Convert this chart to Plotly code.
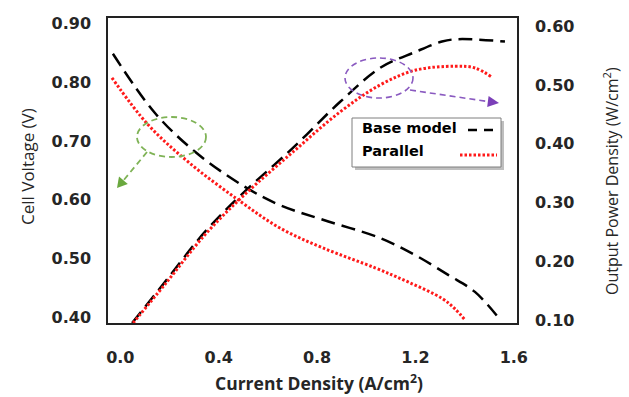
import plotly.graph_objects as go

# ---- data ----
base_v_i = [-0.030, 0.141, 0.304, 0.499, 0.649, 0.824, 1.056, 1.198, 1.333, 1.442, 1.536]
base_v = [0.849, 0.748, 0.682, 0.624, 0.591, 0.566, 0.535, 0.506, 0.472, 0.443, 0.400]

par_v_i = [-0.034, 0.113, 0.275, 0.479, 0.649, 0.824, 1.036, 1.170, 1.308, 1.361, 1.402]
par_v = [0.808, 0.728, 0.665, 0.600, 0.552, 0.518, 0.484, 0.460, 0.432, 0.414, 0.395]

base_p_i = [0.048, 0.182, 0.344, 0.499, 0.702, 0.893, 1.056, 1.198, 1.308, 1.373, 1.564]
base_p = [0.095, 0.165, 0.250, 0.316, 0.393, 0.471, 0.529, 0.556, 0.574, 0.578, 0.574]

par_p_i = [0.052, 0.182, 0.344, 0.499, 0.702, 0.893, 1.056, 1.198, 1.361, 1.442, 1.512]
par_p = [0.095, 0.161, 0.245, 0.311, 0.386, 0.454, 0.500, 0.525, 0.532, 0.529, 0.513]

x_ticks = [0.0, 0.4, 0.8, 1.2, 1.6]
y_ticks = [0.40, 0.50, 0.60, 0.70, 0.80, 0.90]
y2_ticks = [0.10, 0.20, 0.30, 0.40, 0.50, 0.60]

BLACK_DASH = "14px,7px"
RED_DOT = "2.5px,2px"

fig = go.Figure()
fig.add_trace(go.Scatter(x=base_v_i, y=base_v, mode="lines", name="Base model",
                         line=dict(color="black", width=2.5, dash=BLACK_DASH, shape="spline"),
                         showlegend=False))
fig.add_trace(go.Scatter(x=par_v_i, y=par_v, mode="lines", name="Parallel",
                         line=dict(color="#ff1a1a", width=3, dash=RED_DOT, shape="spline"),
                         showlegend=False))
fig.add_trace(go.Scatter(x=base_p_i, y=base_p, mode="lines", name="Base model",
                         line=dict(color="black", width=2.5, dash=BLACK_DASH, shape="spline"),
                         yaxis="y2", showlegend=False))
fig.add_trace(go.Scatter(x=par_p_i, y=par_p, mode="lines", name="Parallel",
                         line=dict(color="#ff1a1a", width=3, dash=RED_DOT, shape="spline"),
                         yaxis="y2", showlegend=False))

tickfont = dict(family="DejaVu Sans", size=16, color="#262626", weight="bold")
clear = "rgba(0,0,0,0)"

fig.update_layout(
    width=629, height=397,
    margin=dict(l=108, r=112, t=18, b=74),
    paper_bgcolor="white", plot_bgcolor="white",
    xaxis=dict(range=[-0.05, 1.613], tickvals=x_ticks, tickformat=".1f",
               showgrid=False, zeroline=False, showline=True, linecolor="#222",
               linewidth=1.5, mirror=True, ticks="outside", ticklen=19, tickcolor=clear,
               tickfont=tickfont),
    yaxis=dict(range=[0.39, 0.91], tickvals=y_ticks, tickformat=".2f",
               showgrid=False, zeroline=False, showline=True, linecolor="#222",
               linewidth=1.5, mirror=True, ticks="outside", ticklen=12, tickcolor=clear,
               tickfont=tickfont),
    yaxis2=dict(range=[0.095, 0.614], tickvals=y2_ticks, tickformat=".2f",
                overlaying="y", side="right", showgrid=False, zeroline=False,
                showline=True, linecolor="#222", linewidth=1.5,
                ticks="outside", ticklen=13, tickcolor=clear, tickfont=tickfont),
)

def px(x):
    return (x - 108) / 409.0

def py(y):
    return (323 - y) / 305.0

def tri(points):
    d = "M " + " L ".join(f"{px(a):.5f},{py(b):.5f}" for a, b in points) + " Z"
    return d

GREEN = "#7fb356"
PURPLE = "#8a5ac0"

shapes = []
# green ellipse
shapes.append(dict(type="circle", xref="paper", yref="paper",
                   x0=px(137), x1=px(206), y0=py(157), y1=py(117),
                   line=dict(color=GREEN, width=1.8, dash="6px,4px")))
# green arrow shaft + head
shapes.append(dict(type="line", xref="paper", yref="paper",
                   x0=px(147), y0=py(152), x1=px(123), y1=py(181),
                   line=dict(color=GREEN, width=1.8, dash="6px,4px")))
shapes.append(dict(type="path", xref="paper", yref="paper",
                   path=tri([(117, 188), (127.8, 184.0), (119.0, 176.6)]),
                   fillcolor="#6aa83e", line=dict(width=0)))
# purple ellipse
shapes.append(dict(type="circle", xref="paper", yref="paper",
                   x0=px(345), x1=px(413), y0=py(98), y1=py(58),
                   line=dict(color=PURPLE, width=1.6, dash="6px,4px")))
# purple arrow shaft + head
shapes.append(dict(type="line", xref="paper", yref="paper",
                   x0=px(410), y0=py(90), x1=px(488), y1=py(101.5),
                   line=dict(color=PURPLE, width=1.6, dash="6px,4px")))
shapes.append(dict(type="path", xref="paper", yref="paper",
                   path=tri([(499, 103), (487.2, 107.0), (488.6, 96.0)]),
                   fillcolor="#7b3fb8", line=dict(width=0)))
# legend shadow and box
shapes.append(dict(type="rect", xref="paper", yref="paper",
                   x0=px(355), x1=px(504), y0=py(170), y1=py(121),
                   line=dict(width=0), fillcolor="rgba(0,0,0,0.25)"))
shapes.append(dict(type="rect", xref="paper", yref="paper",
                   x0=px(352), x1=px(501), y0=py(167), y1=py(118),
                   line=dict(color="#7f7f7f", width=1), fillcolor="white"))
# legend samples
shapes.append(dict(type="line", xref="paper", yref="paper",
                   x0=px(468), x1=px(500), y0=py(130), y1=py(130),
                   line=dict(color="black", width=2.5, dash="9px,7px")))
shapes.append(dict(type="line", xref="paper", yref="paper",
                   x0=px(460), x1=px(497), y0=py(155), y1=py(155),
                   line=dict(color="#ff1a1a", width=3, dash=RED_DOT)))
fig.update_layout(shapes=shapes)

ann = []
# legend text
legfont = dict(family="DejaVu Sans", size=14.5, color="black", weight="bold")
ann.append(dict(xref="paper", yref="paper", x=px(360), y=py(128), xanchor="left",
                yanchor="middle", text="Base model", showarrow=False, font=legfont))
ann.append(dict(xref="paper", yref="paper", x=px(360), y=py(151), xanchor="left",
                yanchor="middle", text="Parallel", showarrow=False, font=legfont))
# axis titles
ann.append(dict(xref="paper", yref="paper", x=px(319), y=py(382), xanchor="center",
                yanchor="middle", text="Current Density (A/cm<sup>2</sup>)", showarrow=False,
                font=dict(family="Open Sans", size=17.5, color="#262626", weight="bold")))
ann.append(dict(xref="paper", yref="paper", x=px(27), y=py(167), xanchor="center",
                yanchor="middle", text="Cell Voltage (V)", showarrow=False, textangle=-90,
                font=dict(family="Open Sans", size=17, color="#262626")))
ann.append(dict(xref="paper", yref="paper", x=px(611), y=py(181), xanchor="center",
                yanchor="middle", text="Output Power Density (W/cm<sup>2</sup>)",
                showarrow=False, textangle=-90,
                font=dict(family="Open Sans", size=16, color="#262626")))
fig.update_layout(annotations=ann)

fig.write_html("out.html")
